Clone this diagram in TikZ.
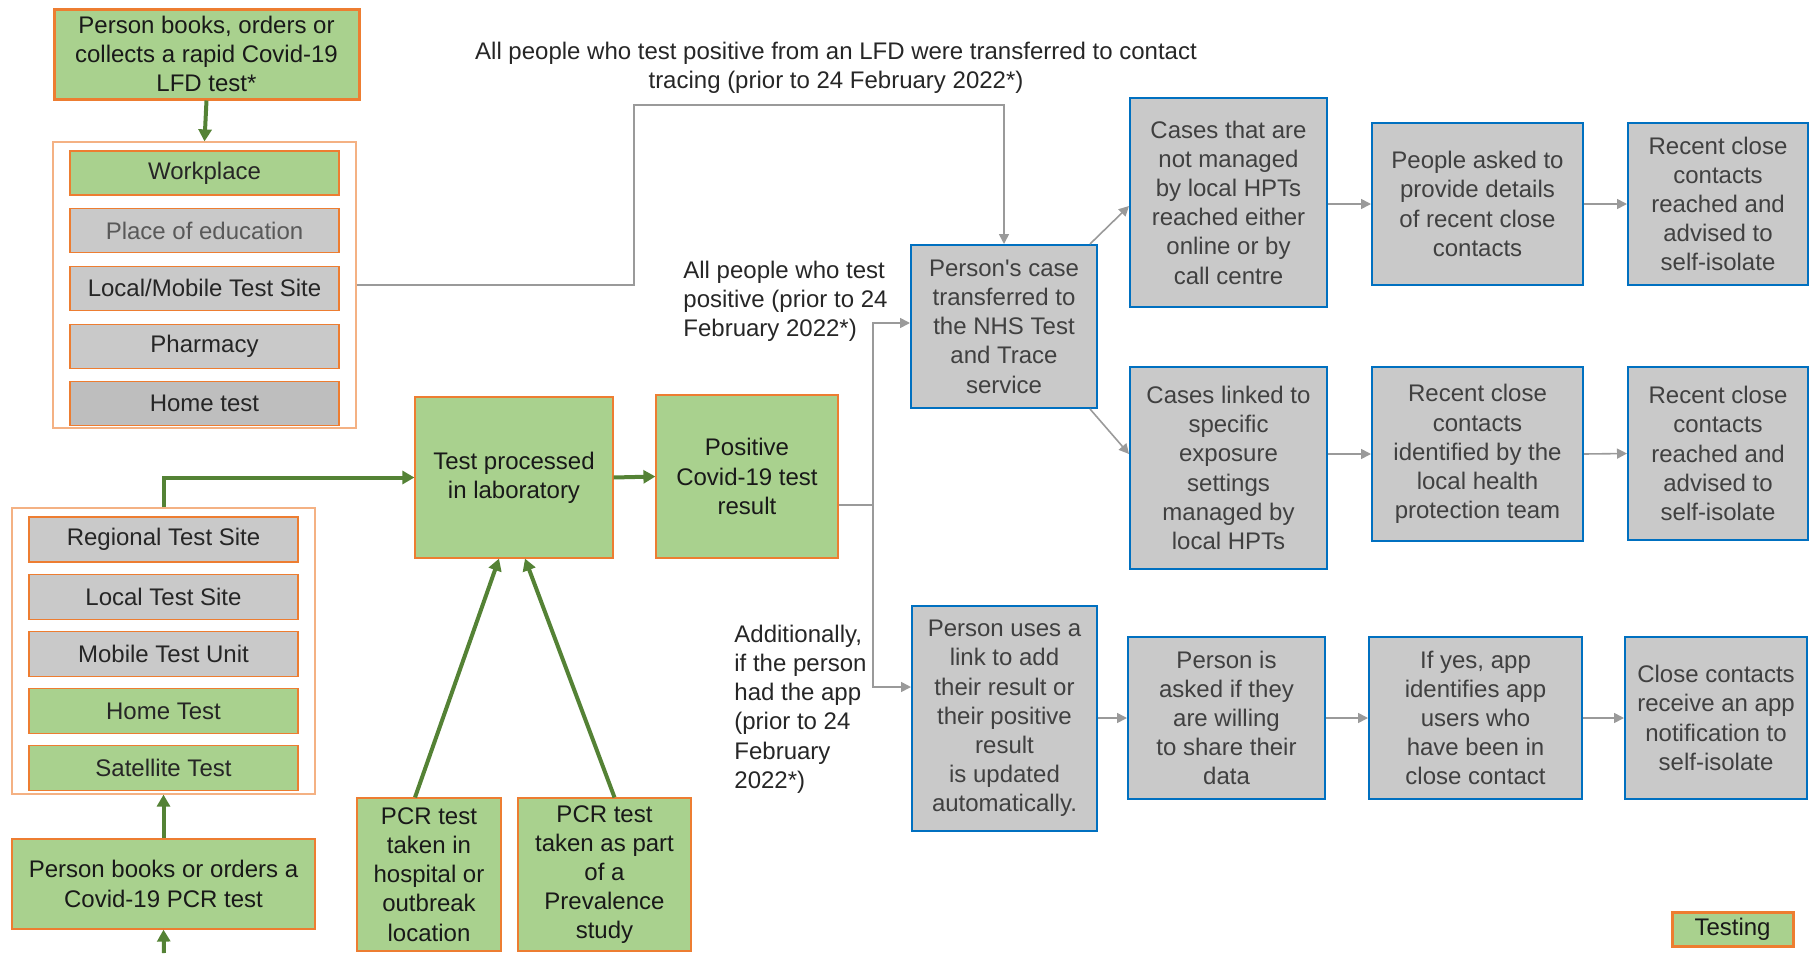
\documentclass[tikz,border=0pt]{standalone}
\usepackage{fontspec}
\setmainfont{Liberation Sans}
\usepackage{xcolor}
\usetikzlibrary{positioning, arrows.meta}

\definecolor{testgreen}{HTML}{A9D18E}
\definecolor{testorange}{HTML}{ED7D31}
\definecolor{paleorange}{HTML}{F4B183}
\definecolor{caseblue}{HTML}{0070C0}
\definecolor{casegrey}{HTML}{C9C9C9}
\definecolor{darkgrey}{HTML}{BEBEBE}
\definecolor{linkgrey}{HTML}{9A9A9A}
\definecolor{arrowgreen}{HTML}{548235}
\definecolor{inkgrey}{HTML}{262626}

\begin{document}
\begin{tikzpicture}[x=0.5pt, y=-0.5pt,
  every node/.style={font=\fontsize{12}{14.6}\selectfont, text=inkgrey, align=center, inner sep=1pt},
  testbox/.style={rectangle, draw=testorange, line width=0.6pt, fill=testgreen, text=black!90},
  sitebox/.style={rectangle, draw=testorange, line width=0.6pt, fill=casegrey, minimum width=134.5pt, minimum height=22pt},
  groupbox/.style={rectangle, draw=paleorange, line width=0.6pt, minimum width=151.5pt, minimum height=143pt},
  tracebox/.style={rectangle, draw=caseblue, line width=1pt, fill=casegrey, text=black!75},
  note/.style={align=left, inner sep=0pt},
  greenarrow/.style={draw=arrowgreen, line width=2pt, -{Triangle[length=6pt, width=6.5pt]}},
  greyarrow/.style={draw=linkgrey, line width=0.8pt, -{Triangle[length=5pt, width=5pt]}}]
  \useasboundingbox (0,0) rectangle (1809,953);

  % LFD route
  \node (lfd) [testbox, line width=1.5pt, minimum width=152.5pt, minimum height=45pt] at (206.5,54) {Person books, orders or\\collects a rapid Covid-19\\LFD test*};
  \node (lfdsites) [groupbox] at (204.5,285) {};
  \node (workplace) [sitebox, fill=testgreen] at (204.5,173) {Workplace};
  \node (placeedu) [sitebox, text=black!65, below=6.25pt of workplace] {Place of education};
  \node (localmobile) [sitebox, below=6.25pt of placeedu] {Local/Mobile Test Site};
  \node (pharmacy) [sitebox, below=6.25pt of localmobile] {Pharmacy};
  \node (hometest) [sitebox, fill=darkgrey, below=6.25pt of pharmacy] {Home test};

  % PCR route
  \node (pcrsites) [groupbox] at (163.5,651) {};
  \node (regional) [sitebox, minimum height=22.5pt] at (163.5,539.5) {Regional Test Site};
  \node (localtest) [sitebox, minimum height=22.5pt, below=5.5pt of regional] {Local Test Site};
  \node (mobile) [sitebox, minimum height=22.5pt, below=5.5pt of localtest] {Mobile Test Unit};
  \node (homekit) [sitebox, fill=testgreen, minimum height=22.5pt, below=5.5pt of mobile] {Home Test};
  \node (satellite) [sitebox, fill=testgreen, minimum height=22.5pt, below=5.5pt of homekit] {Satellite Test};
  \node (pcr) [testbox, minimum width=151.5pt, minimum height=45pt] at (163.5,884) {Person books or orders a\\Covid-19 PCR test};
  \coordinate (pcrin) at (164,953);

  \node (lab) [testbox, minimum width=99pt, minimum height=80.5pt] at (514,477.5) {Test processed\\in laboratory};
  \node (positive) [testbox, minimum width=91pt, minimum height=81.5pt] at (747,476.5) {Positive\\Covid-19 test\\result};
  \node (pcrhosp) [testbox, minimum width=72pt, minimum height=76.5pt] at (429,874.5) {PCR test\\taken in\\hospital or\\outbreak\\location};
  \node (pcrprev) [testbox, minimum width=86.5pt, minimum height=76.5pt] at (604.5,874.5) {PCR test\\taken as part\\of a\\Prevalence\\study};

  % contact tracing
  \node (lfdnote) at (836,68) {All people who test positive from an LFD were transferred to contact\\tracing (prior to 24 February 2022*)};
  \node (allnote) [note, anchor=west] at (683,301) {All people who test\\positive (prior to 24\\February 2022*)};
  \node (appnote) [note, anchor=west] at (734,709) {Additionally,\\if the person\\had the app\\(prior to 24\\February\\2022*)};
  \node (nhs) [tracebox, minimum width=93pt, minimum height=81.5pt] at (1004,326.5) {Person\textquotesingle s case\\transferred to\\the NHS Test\\and Trace\\service};
  \node (app) [tracebox, minimum width=92.5pt, minimum height=112.5pt] at (1004.5,718.5) {Person uses a\\link to add\\their result or\\their positive\\result\\is updated\\automatically.};

  \node (cases1) [tracebox, minimum width=98.5pt, minimum height=104.5pt] at (1228.5,202.5) {Cases that are\\not managed\\by local HPTs\\reached either\\online or by\\call centre};
  \node (ask) [tracebox, minimum width=105.5pt, minimum height=81pt] at (1477.5,204) {People asked to\\provide details\\of recent close\\contacts};
  \node (reach1) [tracebox, minimum width=90pt, minimum height=81pt] at (1718,204) {Recent close\\contacts\\reached and\\advised to\\self-isolate};

  \node (cases2) [tracebox, minimum width=98.5pt, minimum height=101pt] at (1228.5,468) {Cases linked to\\specific\\exposure\\settings\\managed by\\local HPTs};
  \node (hpt) [tracebox, minimum width=105.5pt, minimum height=87pt] at (1477.5,454) {Recent close\\contacts\\identified by the\\local health\\protection team};
  \node (reach2) [tracebox, minimum width=90pt, minimum height=86.5pt] at (1718,453.5) {Recent close\\contacts\\reached and\\advised to\\self-isolate};

  \node (share) [tracebox, minimum width=98.5pt, minimum height=81pt] at (1226.5,718) {Person is\\asked if they\\are willing\\to share their\\data};
  \node (ident) [tracebox, minimum width=106.5pt, minimum height=81pt] at (1475.5,718) {If yes, app\\identifies app\\users who\\have been in\\close contact};
  \node (notify) [tracebox, minimum width=91pt, minimum height=81pt] at (1716,718) {Close contacts\\receive an app\\notification to\\self-isolate};

  \node (legend) [testbox, line width=1.5pt, minimum width=60.5pt, minimum height=17pt] at (1732.5,929) {Testing};

  % testing arrows
  \draw[greenarrow] (lfd.south) -- (lfdsites.north);
  \draw[greenarrow] (pcrin) -- (pcr.south);
  \draw[greenarrow] (pcr.north) -- (pcrsites.south);
  \draw[greenarrow] (pcrsites.north) |- (lab.west);
  \draw[greenarrow] (lab.east) -- (positive.west);
  \draw[greenarrow] ([xshift=-7pt]pcrhosp.north) -- ([xshift=-7.5pt]lab.south);
  \draw[greenarrow] ([xshift=5pt]pcrprev.north) -- ([xshift=5.5pt]lab.south);

  % tracing arrows
  \coordinate (lfdbend) at (634,105);
  \coordinate (split) at (873,505);
  \draw[greyarrow] (lfdsites.east) -| (lfdbend) -| (nhs.north);
  \draw[linkgrey, line width=0.8pt] ([yshift=-14.25pt]positive.east) -- (split);
  \draw[greyarrow] (split) |- ([yshift=1.75pt]nhs.west);
  \draw[greyarrow] (split) |- ([yshift=15.75pt]app.west);
  \draw[greyarrow] ([xshift=-4pt]nhs.north east) -- ([yshift=-1.75pt]cases1.west);
  \draw[greyarrow] ([xshift=-4pt]nhs.south east) -- (cases2.west |- hpt.west);
  \draw[greyarrow] (cases1.east |- ask.west) -- (ask.west);
  \draw[greyarrow] (ask.east) -- (reach1.west);
  \draw[greyarrow] (cases2.east |- hpt.west) -- (hpt.west);
  \draw[greyarrow] (hpt.east) -- (reach2.west);
  \draw[greyarrow] (app.east |- share.west) -- (share.west);
  \draw[greyarrow] (share.east) -- (ident.west);
  \draw[greyarrow] (ident.east) -- (notify.west);
\end{tikzpicture}
\end{document}
